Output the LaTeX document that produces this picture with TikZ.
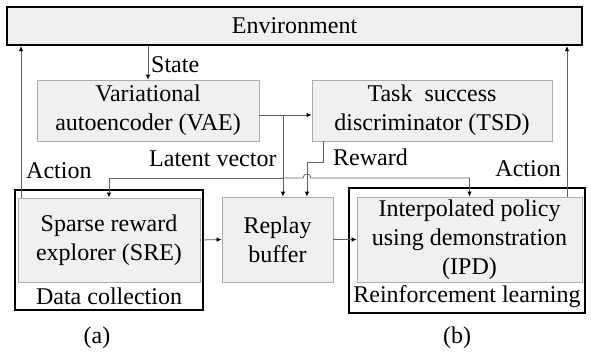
\documentclass[tikz,border=0pt]{standalone}
\usepackage{fontspec}
\setmainfont{Liberation Serif}
\newfontfamily\tnrfont{Liberation Serif}
\usetikzlibrary{arrows.meta}
\begin{document}
\begin{tikzpicture}[x=1pt,y=-1pt,
  font=\tnrfont\fontsize{24}{29}\selectfont,
  box/.style={draw=gray!65, fill=gray!12, line width=0.8pt, inner sep=0pt, align=center},
  grp/.style={draw=black, fill=white, line width=2pt, inner sep=0pt},
  conn/.style={draw=gray!75!black, line width=0.8pt},
  arr/.style={conn, -{Latex[length=5pt,width=4.5pt,black]}},
  lbl/.style={inner sep=0pt, anchor=base west}]
\useasboundingbox (0,0) rectangle (591,351);
% Environment
\node[draw=black, fill=gray!12, line width=2.2pt, inner sep=0pt,
      minimum width=575pt, minimum height=38pt] (env) at (294.5,26) {Environment};
% Top modules
\node[box, minimum width=222pt, minimum height=61pt] (vae) at (148,110.5) {Variational\\autoencoder (VAE)};
\node[box, minimum width=240pt, minimum height=61pt] (tsd) at (432,110.5) {Task\ \ success\\discriminator (TSD)};
% Data collection group
\node[grp, minimum width=188pt, minimum height=120pt] (dc) at (109,250) {};
\node[box, minimum width=182pt, minimum height=84pt] (sre) at (109,240) {Sparse reward\\explorer (SRE)};
\node[inner sep=0pt] (dct) at (109,296) {Data collection};
% Replay buffer
\node[box, minimum width=111pt, minimum height=85pt] (replay) at (277.5,239.5) {Replay\\buffer};
% Reinforcement learning group
\node[grp, minimum width=236pt, minimum height=125pt] (rl) at (467,250.5) {};
\node[box, minimum width=225pt, minimum height=85pt] (ipd) at (469.5,239.5) {Interpolated policy\\using demonstration\\(IPD)};
\node[inner sep=0pt] (rlt) at (467,297) {Reinforcement learning};
% captions
\node[inner sep=0pt, anchor=base] (capa) at (97,343) {(a)};
\node[inner sep=0pt, anchor=base] (capb) at (457,343) {(b)};
% helper coordinates
\coordinate (j1) at (283,115);
\coordinate (j2) at (283,178);
\coordinate (r1) at (323,162);
\coordinate (r2) at (307,162);
\coordinate (a1) at (21,0);
\coordinate (a2) at (567,0);
% connectors
\draw[arr] (env.south -| vae.north) -- (vae.north);
\draw[arr] (vae.east |- j1) -- (tsd.west |- j1);
\draw[arr] (j1) -- (j1 |- replay.north);
\draw[arr] (j2) -| (sre.north);
\draw[arr] (j2) -- (303,178) .. controls (303,172.7) and (311,172.7) .. (311,178) -| (ipd.north);
\draw[arr] (tsd.south -| r1) -- (r1) -- (r2) -- (r2 |- replay.north);
\draw[arr] (sre.north -| a1) -- (env.south -| a1);
\draw[arr] (ipd.north -| a2) -- (env.south -| a2);
\draw[arr] (sre.east) -- (replay.west);
\draw[arr] (replay.east) -- (ipd.west);
% labels
\node[lbl] (lstate) at (151,72) {State};
\node[lbl] (llat) at (149,166) {Latent vector};
\node[lbl] (lrew) at (333,165) {Reward};
\node[lbl] (lact1) at (26,178) {Action};
\node[lbl, anchor=base east] (lact2) at (561,176) {Action};
\end{tikzpicture}
\end{document}
